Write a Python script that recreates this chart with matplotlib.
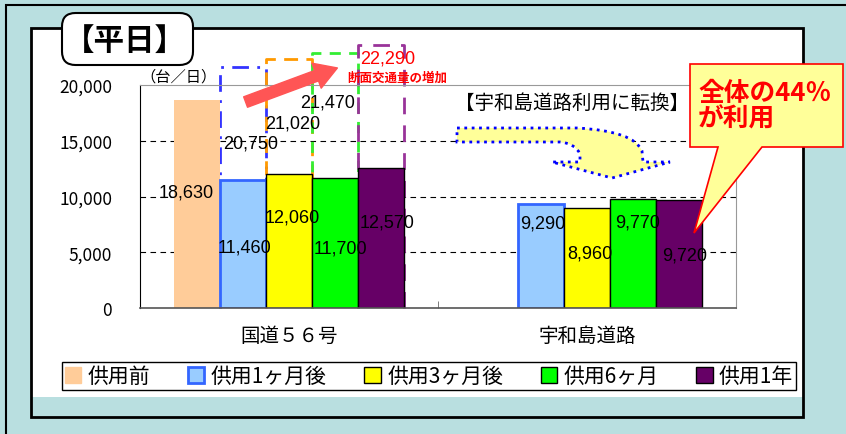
import numpy as np
import matplotlib
matplotlib.use('Agg')
import matplotlib.pyplot as plt
from matplotlib.patches import Rectangle, FancyBboxPatch, Polygon, PathPatch, Patch, FancyArrowPatch
from matplotlib.path import Path

plt.rcParams['font.family'] = ['Noto Sans CJK JP', 'DejaVu Sans']

# data
categories = ['国道５６号', '宇和島道路']
series = ['供用前', '供用1ヶ月後', '供用3ヶ月後', '供用6ヶ月', '供用1年']
before = [18630, np.nan]
after_1m = [11460, 9290]
after_3m = [12060, 8960]
after_6m = [11700, 9770]
after_1y = [12570, 9720]
totals = [20750, 21020, 21470, 22290]   # 断面交通量 (国道56号 + 宇和島道路)
yticks = [0, 5000, 10000, 15000, 20000]

# styles
face = ['#ffcc99', '#99ccff', '#ffff00', '#00ff00', '#660066']
edge = ['none', '#3366ff', 'black', 'black', 'black']
elw = [0, 2, 1, 1, 1]
box_col = ['#3333ff', '#ff9900', '#33ee33', '#993399']
box_ls = [(0, (6, 3, 1, 3)), (0, (5, 3)), (0, (4, 3)), (0, (6, 4))]

# where the labels sit (data y, x shift in px), as laid out in the sheet
lab_y = [[10400, np.nan], [5470, 7620], [8160, 4930], [5380, 7710], [7710, 4750]]
lab_dx = [-11, 2, 3, 5, 6]
tot_y = [14800, 16590, 18470, 22420]
tot_dx = [8, 4, -7, 7]
box_pad = [900, 1300, 1400, 1300]

W, H = 846, 435
def px(x, y):
    return (x / W, 1 - y / H)

fig = plt.figure(figsize=(W / 100, H / 100), dpi=100)
fig.patch.set_facecolor('#b9dfe0')

# frames
fig.add_artist(Rectangle(px(6, 450), 870 / W, 444 / H, transform=fig.transFigure,
                         fill=False, ec='black', lw=1.5, zorder=-10))
fig.add_artist(Rectangle(px(31, 398), 772 / W, 369 / H, transform=fig.transFigure,
                         fc='white', ec='none', zorder=-9))
fig.add_artist(Rectangle(px(31, 418), 772 / W, 389 / H, transform=fig.transFigure,
                         fill=False, ec='black', lw=2, zorder=-8))

ax = fig.add_axes([140 / W, (H - 309) / H, 596 / W, 223 / H])
x = np.arange(len(categories))
bw = 0.1544
offs = (np.arange(5) - 2) * bw
upp = 1 / 298.0  # category units per pixel

vals = [before, after_1m, after_3m, after_6m, after_1y]
for i, v in enumerate(vals):
    ax.bar(x + offs[i], v, bw, color=face[i], edgecolor=edge[i], linewidth=elw[i], zorder=3)
    for j in range(len(x)):
        if np.isnan(v[j]):
            continue
        ax.text(x[j] + offs[i] + lab_dx[i] * upp, lab_y[i][j], f'{int(v[j]):,}',
                ha='center', va='center', fontsize=13, family='Liberation Sans', zorder=6)

# dashed boxes for the cross-section totals (behind the bars, open at the bottom)
for k in range(4):
    x0 = x[0] + offs[k + 1] - bw / 2
    x1 = x0 + bw
    top = totals[k] + box_pad[k]
    ax.plot([x0, x0, x1, x1], [0, top, top, 0], color=box_col[k], ls=box_ls[k],
            lw=2, zorder=2, clip_on=False)
    ax.text(x[0] + offs[k + 1] + tot_dx[k] * upp, tot_y[k], f'{totals[k]:,}',
            ha='center', va='center', fontsize=13, family='Liberation Sans',
            color='red' if k == 3 else 'black', zorder=6, clip_on=False)

ax.set_xlim(-0.5, 1.5)
ax.set_ylim(0, 20000)
ax.set_yticks(yticks)
ax.set_yticklabels([f'{t:,}' for t in yticks], fontsize=12.5)
ax.tick_params(axis='y', length=0, pad=20)
ax.set_xticks(x)
ax.set_xticklabels(categories, fontsize=14)
ax.tick_params(axis='x', which='major', length=0, pad=12)
ax.set_xticks([0.5], minor=True)
ax.tick_params(axis='x', which='minor', direction='in', length=5, color='#666666')
for yy in yticks[1:-1]:
    ax.axhline(yy, color='black', lw=0.8, ls=(0, (5, 4)), zorder=1)
for s in ['top', 'right']:
    ax.spines[s].set_color('#999999')
ax.spines['left'].set_color('black')
ax.spines['bottom'].set_color('#555555')
ax.spines['bottom'].set_linewidth(1.2)
ax.spines['bottom'].set_zorder(5)

fig.text(*px(140, 77), '（台／日）', ha='left', va='center', fontsize=11)

# red arrow and its note
fig.add_artist(FancyArrowPatch(px(243, 104), px(340, 68), transform=fig.transFigure,
                               arrowstyle='simple,head_length=1.0,head_width=1.2,tail_width=0.5',
                               mutation_scale=16, color='#ff5555', zorder=7))
fig.text(*px(397, 78), '断面交通量の増加', ha='center', va='center', fontsize=9,
         fontweight='bold', color='red', zorder=8)

fig.text(*px(572, 103), '【宇和島道路利用に転換】', ha='center', va='center', fontsize=14, zorder=8)

# yellow bent arrow
pts = [(457, 129), (577, 129), (634, 132), (642, 152), (643, 163), (670, 163), (612, 179),
       (552, 163), (580, 163), (580, 155), (575, 144), (560, 143), (457, 143), (457, 129)]
codes = [Path.MOVETO, Path.LINETO, Path.CURVE3, Path.CURVE3, Path.LINETO, Path.LINETO,
         Path.LINETO, Path.LINETO, Path.LINETO, Path.LINETO, Path.CURVE3, Path.CURVE3,
         Path.LINETO, Path.CLOSEPOLY]
fig.add_artist(PathPatch(Path([px(a, b) for a, b in pts], codes), transform=fig.transFigure,
                         fc='#ffff99', ec='#0000ff', lw=2, ls=':', zorder=7))

# callout
call = [(690, 65), (843, 65), (843, 148), (762, 148), (694, 234), (718, 148), (690, 148)]
fig.add_artist(Polygon([px(a, b) for a, b in call], closed=True, transform=fig.transFigure,
                       fc='#ffff99', ec='red', lw=1.2, zorder=7))
fig.text(*px(698, 106), '全体の44％\nが利用', ha='left', va='center', fontsize=18.5,
         fontweight='bold', color='red', linespacing=0.95, zorder=8)

# title box
fig.add_artist(FancyBboxPatch(px(62, 66), 131 / W, 52 / H, transform=fig.transFigure,
                              boxstyle='round,pad=0,rounding_size=0.016', mutation_aspect=W / H,
                              fc='white', ec='black', lw=1.5, zorder=7))
fig.text(*px(125, 41), '【平日】', ha='center', va='center', fontsize=22,
         fontweight='bold', zorder=8)

# legend
handles = [Patch(facecolor=face[i], edgecolor=edge[i] if i else face[i], linewidth=max(elw[i], 1))
           for i in range(5)]
leg = fig.legend(handles, series, loc='center', ncol=5,
                 bbox_to_anchor=px(429, 377), borderaxespad=0,
                 prop={'family': 'Noto Sans CJK JP', 'size': 15}, handlelength=0.8,
                 handleheight=0.8, handletextpad=0.3, columnspacing=1.8, borderpad=0.15,
                 fancybox=False, edgecolor='black', framealpha=1)
leg.get_frame().set_linewidth(1)

fig.savefig('out.png', dpi=100, facecolor=fig.get_facecolor())
